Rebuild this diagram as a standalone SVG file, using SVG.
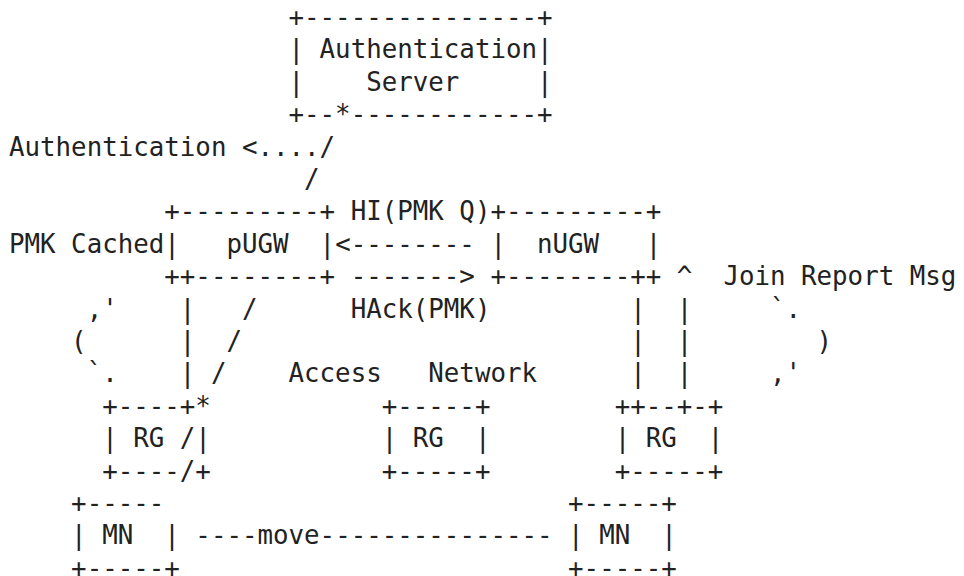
<svg xmlns="http://www.w3.org/2000/svg" width="964" height="576" viewBox="0 0 964 576" xml:space="preserve">
<style>
text{font-family:"DejaVu Sans Mono","Liberation Mono",monospace;font-size:25.8px;fill:#222;white-space:pre}
</style>
<rect width="964" height="576" fill="#fff"/>
<g id="auth-server">
<text x="288.54" y="26">+---------------+</text>
<text x="288.54" y="58.4">| Authentication|</text>
<text x="288.54" y="90.8">|    Server     |</text>
<text x="288.54" y="123.2">+--*------------+</text>
</g>
<g id="pugw">
<text x="164.3" y="220.4">+---------+</text>
<text x="164.3" y="252.8">|   pUGW  |</text>
<text x="164.3" y="285.2">++--------+</text>
</g>
<g id="nugw">
<text x="490.43" y="220.4">+---------+</text>
<text x="490.43" y="252.8">|  nUGW   |</text>
<text x="490.43" y="285.2">+--------++</text>
</g>
<g id="rg1">
<text x="102.18" y="414.8">+----+</text>
<text x="102.18" y="447.2">| RG /|</text>
<text x="102.18" y="479.6">+----/+</text>
</g>
<g id="rg2">
<text x="381.72" y="414.8">+-----+</text>
<text x="381.72" y="447.2">| RG  |</text>
<text x="381.72" y="479.6">+-----+</text>
</g>
<g id="rg3">
<text x="614.67" y="414.8">++--+-+</text>
<text x="614.67" y="447.2">| RG  |</text>
<text x="614.67" y="479.6">+-----+</text>
</g>
<g id="mn1">
<text x="71.12" y="512">+-----</text>
<text x="71.12" y="544.4">| MN  |</text>
<text x="71.12" y="576.8">+-----+</text>
</g>
<g id="mn2">
<text x="568.08" y="512">+-----+</text>
<text x="568.08" y="544.4">| MN  |</text>
<text x="568.08" y="576.8">+-----+</text>
</g>
<g id="connectors">
<text x="241.95" y="155.6">&lt;..../</text>
<text x="304.07" y="188">/</text>
<text x="335.13" y="252.8">&lt;--------</text>
<text x="350.66" y="285.2">-------&gt;</text>
<text x="676.79" y="285.2">^</text>
<text x="86.65" y="317.6">,'</text>
<text x="179.83" y="317.6">|</text>
<text x="241.95" y="317.6">/</text>
<text x="630.2" y="317.6">|</text>
<text x="676.79" y="317.6">|</text>
<text x="769.97" y="317.6">`.</text>
<text x="71.12" y="350">(</text>
<text x="179.83" y="350">|</text>
<text x="226.42" y="350">/</text>
<text x="630.2" y="350">|</text>
<text x="676.79" y="350">|</text>
<text x="816.56" y="350">)</text>
<text x="86.65" y="382.4">`.</text>
<text x="179.83" y="382.4">|</text>
<text x="210.89" y="382.4">/</text>
<text x="630.2" y="382.4">|</text>
<text x="676.79" y="382.4">|</text>
<text x="769.97" y="382.4">,'</text>
<text x="195.36" y="414.8">*</text>
<text x="195.36" y="544.4">----move---------------</text>
</g>
<g id="labels">
<text x="9" y="155.6">Authentication</text>
<text x="9" y="252.8">PMK Cached</text>
<text x="350.66" y="220.4">HI(PMK Q)</text>
<text x="350.66" y="317.6">HAck(PMK)</text>
<text x="723.38" y="285.2">Join Report Msg</text>
<text x="288.54" y="382.4">Access</text>
<text x="428.31" y="382.4">Network</text>
</g>
</svg>
